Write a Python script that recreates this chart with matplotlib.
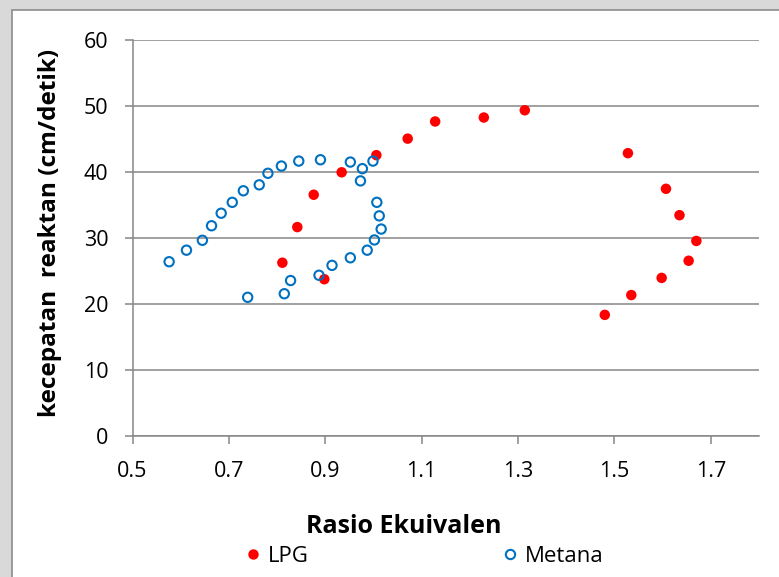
import matplotlib
matplotlib.use('Agg')
import matplotlib.pyplot as plt
from matplotlib.patches import Rectangle
from matplotlib.lines import Line2D

# ---- data ----
lpg_x = [0.811, 0.842, 0.876, 0.934, 1.006, 0.898, 1.071, 1.128, 1.229, 1.314,
         1.528, 1.607, 1.635, 1.670, 1.654, 1.598, 1.535, 1.480]
lpg_y = [26.3, 31.7, 36.6, 40.0, 42.6, 23.8, 45.1, 47.7, 48.3, 49.4,
         42.9, 37.5, 33.5, 29.6, 26.6, 24.0, 21.4, 18.4]

metana_x = [0.576, 0.612, 0.645, 0.664, 0.684, 0.707, 0.730, 0.763, 0.781, 0.809,
            0.845, 0.890, 0.952, 0.977, 0.999, 0.973, 1.007, 1.012, 1.016, 1.002,
            0.987, 0.952, 0.914, 0.887, 0.828, 0.815, 0.739]
metana_y = [26.45, 28.2, 29.7, 31.9, 33.8, 35.45, 37.2, 38.1, 39.85, 40.95,
            41.7, 41.9, 41.55, 40.55, 41.7, 38.7, 35.45, 33.4, 31.4, 29.75,
            28.2, 27.05, 25.9, 24.4, 23.6, 21.6, 21.06]

x_ticks = [0.5, 0.7, 0.9, 1.1, 1.3, 1.5, 1.7]
x_tick_labels = ['0.5', '0.7', '0.9', '1.1', '1.3', '1.5', '1.7']
y_ticks = [0, 10, 20, 30, 40, 50, 60]

x_title = 'Rasio Ekuivalen'
y_title = 'kecepatan  reaktan (cm/detik)'
series_names = ['LPG', 'Metana']

# ---- figure ----
W, H = 779, 577
plt.rcParams['font.family'] = ['Open Sans', 'DejaVu Sans']
fig = plt.figure(figsize=(W / 100, H / 100), dpi=100, facecolor='#d9d9d9')

# white chart area with gray border (extends beyond right/bottom edge)
fig.patches.append(Rectangle((12 / W, -0.05), 1.1, 1 - 10 / H + 0.05,
                             transform=fig.transFigure, facecolor='white',
                             edgecolor='#8c8c8c', linewidth=1.2, zorder=-5))

grid_col = '#868686'
ax = fig.add_axes([132.5 / W, 1 - 436.3 / H, (759 - 132.5) / W, (436.3 - 40.3) / H])
ax.set_zorder(2)
ax.set_facecolor('none')
ax.set_xlim(0.5, 1.8)
ax.set_ylim(0, 60)

ax.set_xticks(x_ticks)
ax.set_xticklabels(x_tick_labels)
ax.set_yticks(y_ticks)

for s in ['top', 'right']:
    ax.spines[s].set_visible(False)
for s in ['left', 'bottom']:
    ax.spines[s].set_color(grid_col)
    ax.spines[s].set_linewidth(1.1)

ax.grid(axis='y', color=grid_col, linewidth=1.1)
ax.set_axisbelow(True)
ax.tick_params(axis='both', colors=grid_col, labelcolor='black', width=1.1,
               length=5.7, labelsize=15.5, direction='out')
ax.tick_params(axis='y', pad=11.8)
ax.tick_params(axis='x', pad=11.8)

ax.scatter(lpg_x, lpg_y, s=57, color='#FF0000', edgecolors='none', zorder=3,
           clip_on=False)
ax.scatter(metana_x, metana_y, s=45, facecolors='none', edgecolors='#0070C0',
           linewidths=1.5, zorder=4, clip_on=False)

fig.text(404 / W, 1 - 532.7 / H, x_title, ha='center', va='baseline',
         fontsize=18, fontweight='bold')
fig.text(50 / W, 1 - 233 / H, y_title, ha='center', va='center', rotation=90,
         fontsize=17.6, fontweight='bold')

handles = [Line2D([], [], linestyle='none', marker='o', markersize=7.5,
                  markerfacecolor='#FF0000', markeredgecolor='none'),
           Line2D([], [], linestyle='none', marker='o', markersize=6.7,
                  markerfacecolor='none', markeredgecolor='#0070C0',
                  markeredgewidth=1.5)]
fig.legend(handles, series_names, loc='center left',
           bbox_to_anchor=(247.5 / W, 1 - 556.7 / H), ncol=2, frameon=False,
           fontsize=16, handlelength=0.5, handletextpad=0.425,
           columnspacing=8.8, borderpad=0, borderaxespad=0)

fig.savefig('out.png', dpi=100, facecolor=fig.get_facecolor())
